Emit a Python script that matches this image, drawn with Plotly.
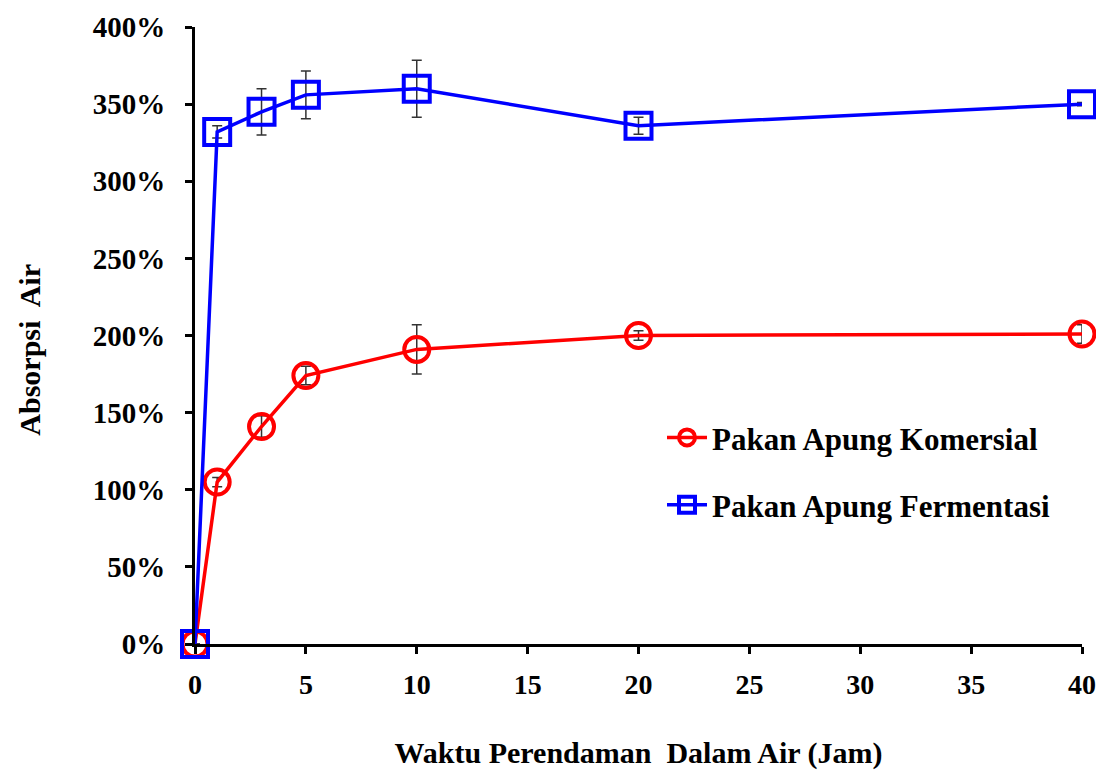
import plotly.graph_objects as go

hours = [0, 1, 3, 5, 10, 20, 40]
komersial = [0, 105, 141, 174, 191, 200, 201]
komersial_err = [0, 3, 7, 6, 16, 3, 6]
fermentasi = [0, 332, 345, 356, 360, 336, 350]
fermentasi_err = [0, 4, 15, 15.5, 18.5, 5.5, 1]

x_ticks = [0, 5, 10, 15, 20, 25, 30, 35, 40]
y_ticks = [0, 50, 100, 150, 200, 250, 300, 350, 400]

font_family = "Liberation Serif, Times New Roman, serif"

fig = go.Figure()
fig.add_trace(go.Scatter(
    x=hours, y=komersial, mode="lines+markers", name="<b>Pakan Apung Komersial</b>",
    legendgroup="a",
    line=dict(color="#ff0000", width=3.5),
    marker=dict(symbol="circle-open", size=25, color="#ff0000", line=dict(width=4, color="#ff0000")),
    error_y=dict(type="data", array=komersial_err, visible=True, color="#333333", thickness=1.5, width=5),
    cliponaxis=False,
))
fig.add_trace(go.Scatter(
    x=hours, y=fermentasi, mode="lines+markers", name="<b>Pakan Apung Fermentasi</b>",
    legendgroup="b",
    line=dict(color="#0000ff", width=3.5),
    marker=dict(symbol="square-open", size=26, color="#0000ff", line=dict(width=4, color="#0000ff")),
    error_y=dict(type="data", array=fermentasi_err, visible=True, color="#333333", thickness=1.5, width=5),
    cliponaxis=False,
))

axis_common = dict(
    showline=True, linecolor="black", linewidth=3,
    ticklen=7, tickwidth=3, tickcolor="black",
    showgrid=False, zeroline=False, automargin=False,
)

fig.update_layout(
    width=1104, height=770,
    margin=dict(l=187, r=30, t=19, b=134),
    paper_bgcolor="white", plot_bgcolor="white",
    font=dict(family=font_family, color="black", size=26),
    showlegend=True,
    legend=dict(
        x=0.5265, y=0.378, xanchor="left", yanchor="top",
        font=dict(family=font_family, size=31, color="black"),
        bgcolor="rgba(0,0,0,0)", tracegroupgap=24, itemwidth=40,
    ),
    xaxis=dict(
        range=[0, 40], tickvals=x_ticks, ticktext=[f"<b>{v}</b>" for v in x_ticks],
        ticks="outside", ticklabelstandoff=6,
        tickfont=dict(size=28, family=font_family),
        title=dict(text="<b>Waktu Perendaman  Dalam Air (Jam)</b>", font=dict(size=30, family=font_family), standoff=44),
        **axis_common,
    ),
    yaxis=dict(
        range=[0, 400], tickvals=y_ticks, ticktext=[f"<b>{v}%</b>" for v in y_ticks],
        ticks="outside", ticklabelstandoff=14,
        tickfont=dict(size=29, family=font_family),
        **axis_common,
    ),
    xaxis2=dict(
        range=[0, 40], tickvals=x_ticks, overlaying="x", side="bottom",
        ticks="inside", showticklabels=False, **axis_common,
    ),
    yaxis2=dict(
        range=[0, 400], tickvals=y_ticks, overlaying="y", side="left",
        ticks="inside", showticklabels=False, **axis_common,
    ),
    annotations=[dict(
        text="<b>Absorpsi  Air</b>", textangle=-90, showarrow=False,
        xref="paper", yref="paper", x=0, y=0.477, xanchor="center", yanchor="middle",
        xshift=-165, font=dict(size=30, family=font_family, color="black"),
    )],
)

fig.write_html("out.html")
